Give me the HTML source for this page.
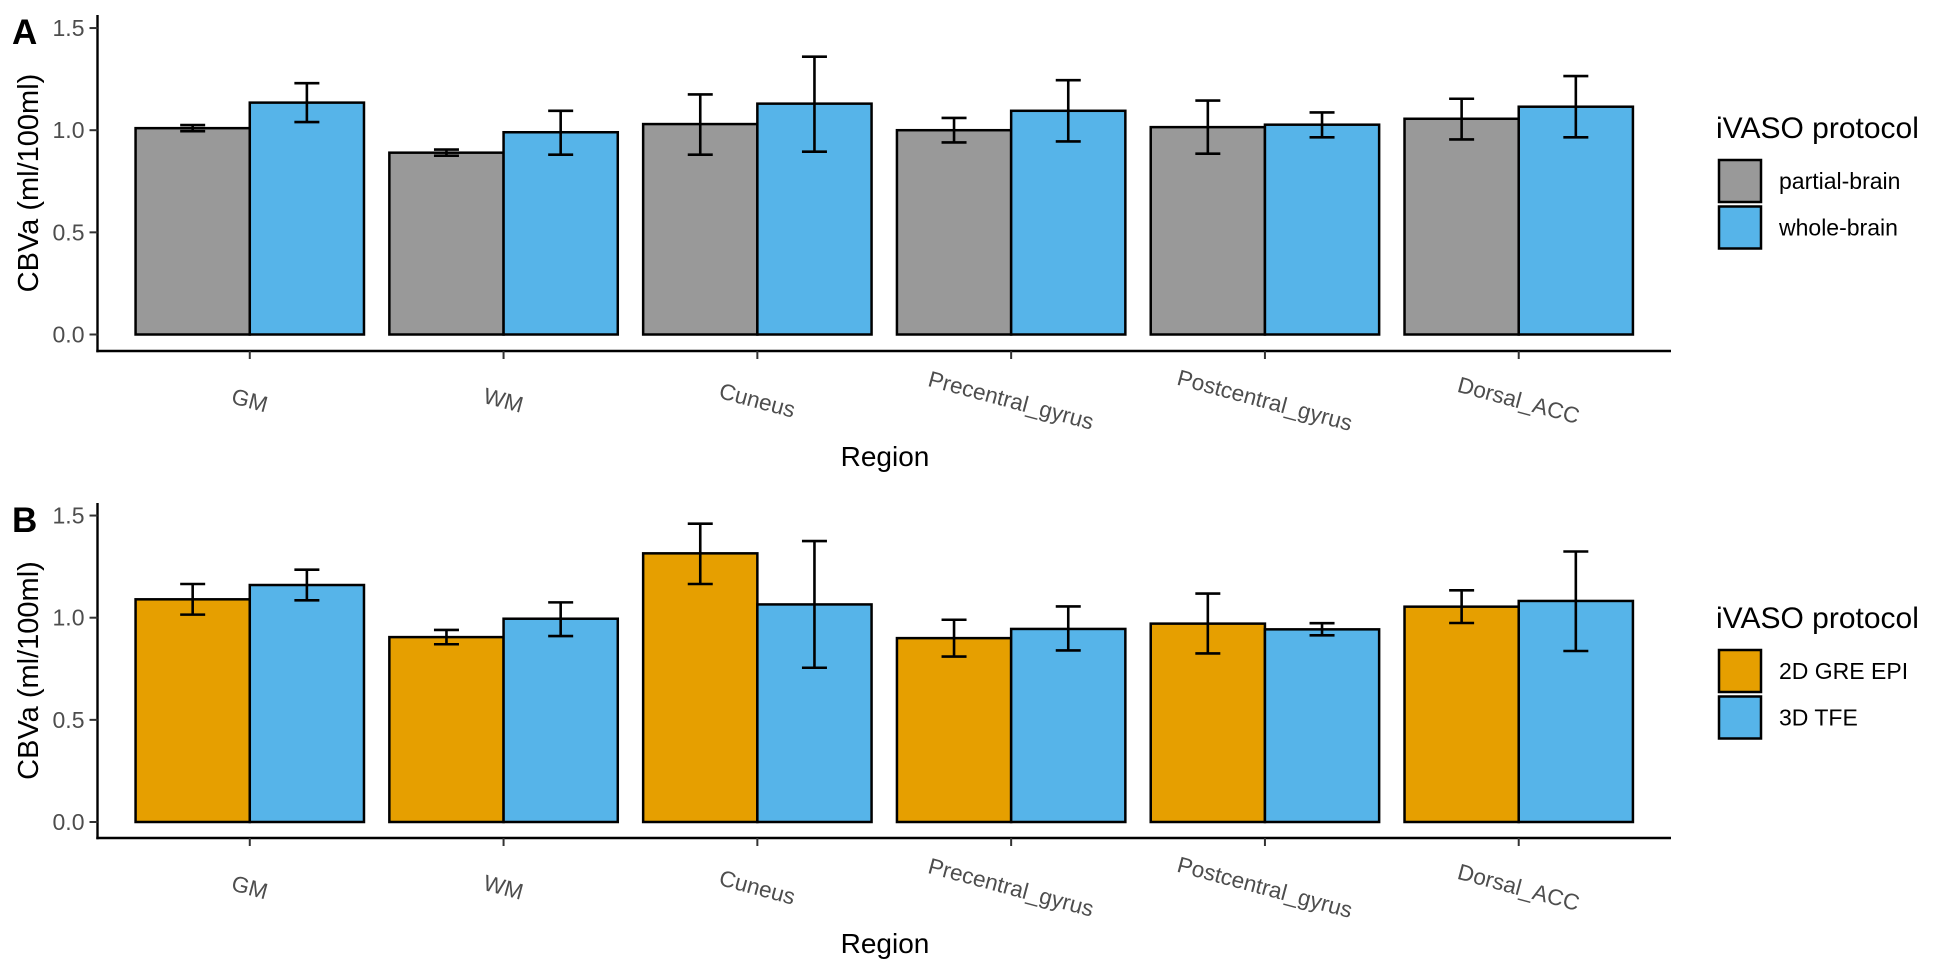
<!DOCTYPE html>
<html><head><meta charset="utf-8"><style>
html,body{margin:0;padding:0;background:#fff;}
svg{display:block;font-family:"Liberation Sans",Arial,sans-serif;}
</style></head><body>
<svg id="chart" width="1948" height="974" viewBox="0 0 1948 974"></svg>
<script>
const categories = ["GM","WM","Cuneus","Precentral_gyrus","Postcentral_gyrus","Dorsal_ACC"];
const yTicks = [0.0, 0.5, 1.0, 1.5];
const yTickLabels = ["0.0","0.5","1.0","1.5"];
// Panel A
const aSeriesNames = ["partial-brain","whole-brain"];
const aPartial = [1.01, 0.89, 1.03, 1.00, 1.015, 1.056];
const aPartialLo = [0.995, 0.875, 0.88, 0.94, 0.885, 0.955];
const aPartialHi = [1.025, 0.905, 1.175, 1.06, 1.145, 1.154];
const aWhole = [1.135, 0.99, 1.13, 1.095, 1.027, 1.115];
const aWholeLo = [1.04, 0.88, 0.895, 0.945, 0.965, 0.965];
const aWholeHi = [1.23, 1.095, 1.36, 1.245, 1.087, 1.265];
// Panel B
const bSeriesNames = ["2D GRE EPI","3D TFE"];
const bEpi = [1.09, 0.905, 1.315, 0.90, 0.971, 1.054];
const bEpiLo = [1.015, 0.87, 1.165, 0.81, 0.825, 0.974];
const bEpiHi = [1.165, 0.94, 1.46, 0.99, 1.118, 1.134];
const bTfe = [1.16, 0.995, 1.065, 0.945, 0.943, 1.082];
const bTfeLo = [1.085, 0.91, 0.755, 0.84, 0.914, 0.837];
const bTfeHi = [1.235, 1.075, 1.375, 1.055, 0.973, 1.324];

const NS="http://www.w3.org/2000/svg";
const svg=document.getElementById('chart');
function mk(tag,attrs,parent,text){const e=document.createElementNS(NS,tag);for(const k in attrs)e.setAttribute(k,attrs[k]);if(text!==undefined)e.textContent=text;(parent||svg).appendChild(e);return e;}

function panel(opts){
  const g=mk('g',{});
  
  
  const left=97.5,right=1671,y0=opts.y0,ppu=204.3;
  const step=(right-left)/(categories.length+0.2);
  const xC=i=>left+step*(0.6+i);
  const yS=v=>y0-v*ppu;
  const bw=step*0.45;
  const series=[[opts.s1,opts.s1lo,opts.s1hi,opts.c1],[opts.s2,opts.s2lo,opts.s2hi,opts.c2]];
  series.forEach((s,si)=>{
    categories.forEach((c,i)=>{
      const x=xC(i)+(si===0?-bw:0);
      const r=mk('rect',{x:x,y:yS(s[0][i]),width:bw,height:yS(0)-yS(s[0][i]),fill:s[3],stroke:'#000','stroke-width':2.5},g);
      
      
    });
  });
  series.forEach((s,si)=>{
    categories.forEach((c,i)=>{
      const cx=xC(i)+(si===0?-bw/2:bw/2);
      const eg=mk('g',{stroke:'#000','stroke-width':2.6,fill:'none'},g);
      
      
      const lo=yS(s[1][i]),hi=yS(s[2][i]);
      mk('line',{x1:cx,x2:cx,y1:lo,y2:hi},eg);
      mk('line',{x1:cx-12.5,x2:cx+12.5,y1:lo,y2:lo},eg);
      mk('line',{x1:cx-12.5,x2:cx+12.5,y1:hi,y2:hi},eg);
    });
  });
  const ya=mk('line',{x1:left,x2:left,y1:opts.axTop,y2:opts.axY+1.2,stroke:'#000','stroke-width':2.4},g);
  
  
  const xa=mk('line',{x1:left-1.2,x2:right,y1:opts.axY,y2:opts.axY,stroke:'#000','stroke-width':2.4},g);
  
  
  yTicks.forEach((t,i)=>{
    mk('line',{x1:left-8,x2:left,y1:yS(t),y2:yS(t),stroke:'#333','stroke-width':2},g);
    const tl=mk('text',{x:left-13,y:yS(t)+8,'text-anchor':'end','font-size':23,fill:'#4d4d4d'},g,yTickLabels[i]);
    
    
  });
  categories.forEach((c,i)=>{
    mk('line',{x1:xC(i),x2:xC(i),y1:opts.axY,y2:opts.axY+8,stroke:'#333','stroke-width':2},g);
    const cy=opts.axY+49;
    const tl=mk('text',{x:xC(i),y:cy+8,'text-anchor':'middle','font-size':22.5,fill:'#4d4d4d',transform:'rotate(15 '+xC(i)+' '+cy+')'},g,c);
    
    
  });
  const xt=mk('text',{x:885,y:opts.axY+115,'text-anchor':'middle','font-size':28,fill:'#000'},g,'Region');
  
  
  const ymid=(opts.axTop+opts.axY)/2;
  const yt=mk('text',{x:38,y:ymid,'text-anchor':'middle','font-size':29,fill:'#000',transform:'rotate(-90 38 '+ymid+')'},g,'CBVa (ml/100ml)');
  
  
  const pl=mk('text',{x:12,y:opts.axTop+29,'font-size':35,'font-weight':'bold',fill:'#000'},g,opts.label);
  
  
  const lg=mk('g',{},g);
  
  
  const lt=mk('text',{x:1716,y:opts.legY,'font-size':30,fill:'#000'},lg,'iVASO protocol');
  
  
  [[opts.n1,opts.c1],[opts.n2,opts.c2]].forEach((e,k)=>{
    const ky=opts.legY+22+k*46.5;
    const eg=mk('g',{},lg);
    
    
    mk('rect',{x:1719,y:ky,width:42,height:42,fill:e[1],stroke:'#000','stroke-width':2.5},eg);
    mk('text',{x:1779,y:ky+29,'font-size':23,fill:'#000'},eg,e[0]);
  });
}
panel({name:'panel-a',key:'a',label:'A',y0:334.5,axTop:15,axY:351,legY:138,
  s1:aPartial,s1lo:aPartialLo,s1hi:aPartialHi,s2:aWhole,s2lo:aWholeLo,s2hi:aWholeHi,
  c1:'#999999',c2:'#56B4E9',n1:aSeriesNames[0],n2:aSeriesNames[1]});
panel({name:'panel-b',key:'b',label:'B',y0:822,axTop:503,axY:838,legY:628,
  s1:bEpi,s1lo:bEpiLo,s1hi:bEpiHi,s2:bTfe,s2lo:bTfeLo,s2hi:bTfeHi,
  c1:'#E69F00',c2:'#56B4E9',n1:bSeriesNames[0],n2:bSeriesNames[1]});
</script>
</body></html>
